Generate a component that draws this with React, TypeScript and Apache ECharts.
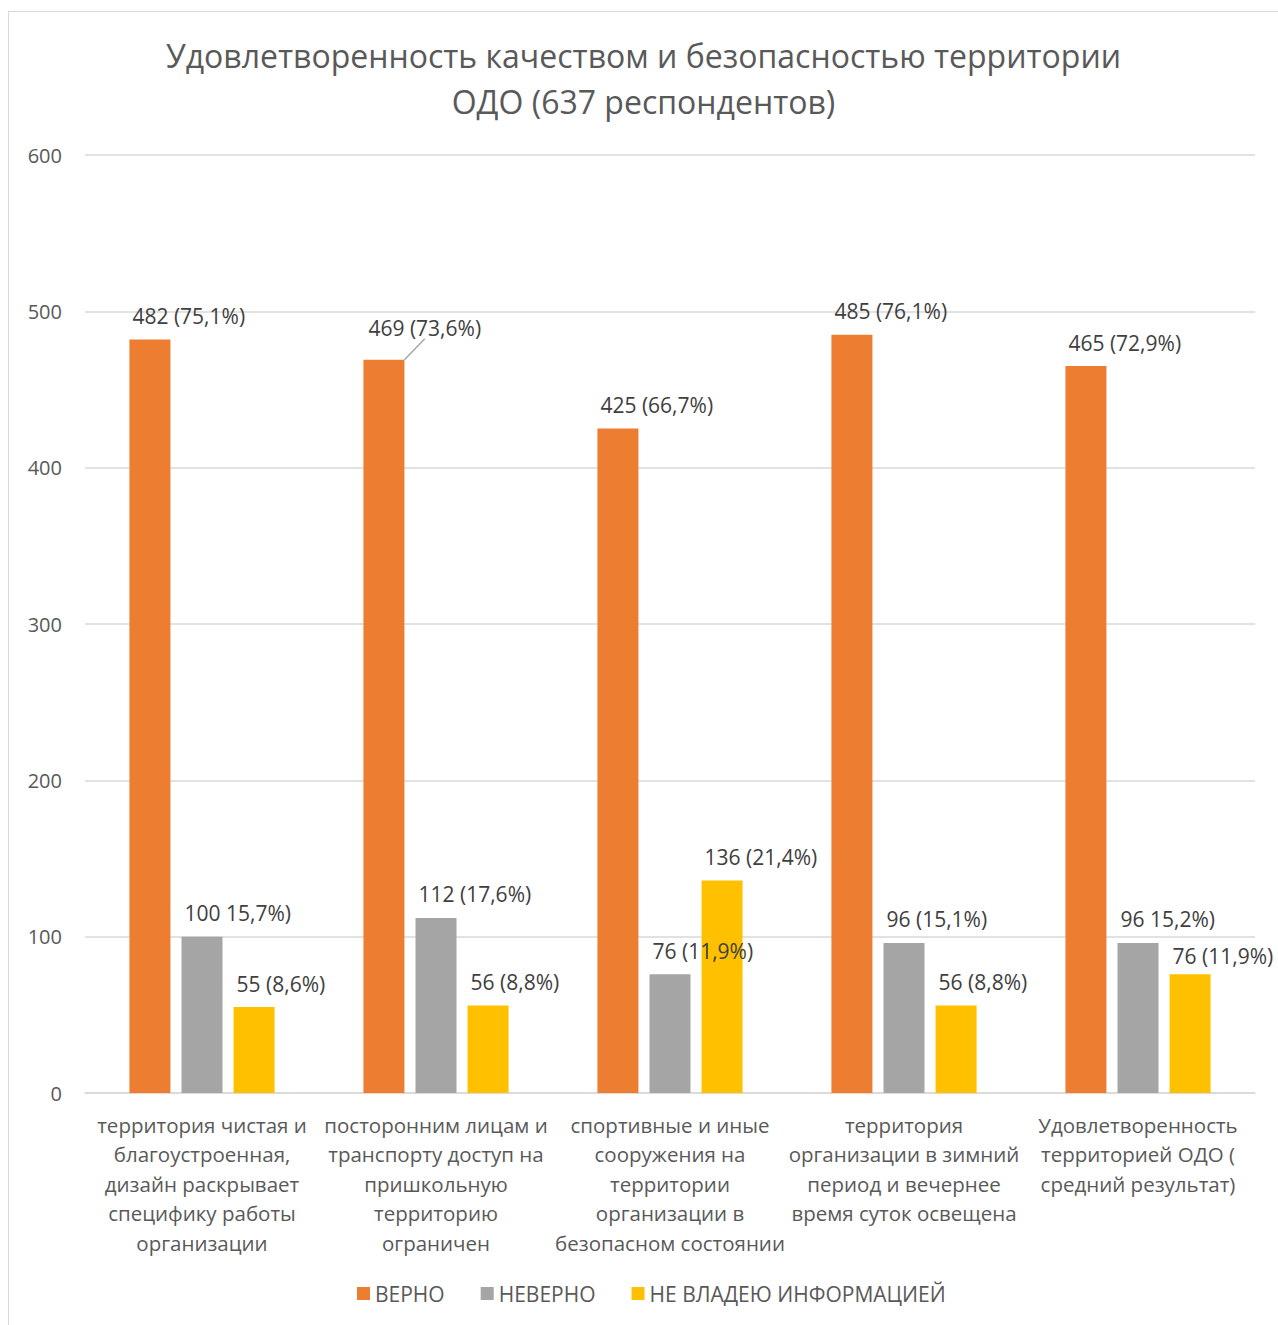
import React, { useEffect, useRef } from "react";
import * as echarts from "echarts";

const categories = [
  "территория чистая и\nблагоустроенная,\nдизайн раскрывает\nспецифику работы\nорганизации",
  "посторонним лицам и\nтранспорту доступ на\nпришкольную\nтерриторию\nограничен",
  "спортивные и иные\nсооружения на\nтерритории\nорганизации в\nбезопасном состоянии",
  "территория\nорганизации в зимний\nпериод и вечернее\nвремя суток освещена",
  "Удовлетворенность\nтерриторией ОДО (\nсредний результат)",
];

const seriesNames = ["ВЕРНО", "НЕВЕРНО", "НЕ ВЛАДЕЮ ИНФОРМАЦИЕЙ"];

const verno = [482, 469, 425, 485, 465];
const neverno = [100, 112, 76, 96, 96];
const neVladeyu = [55, 56, 136, 56, 76];

const vernoLabels = ["482 (75,1%)", "469 (73,6%)", "425 (66,7%)", "485 (76,1%)", "465 (72,9%)"];
const nevernoLabels = ["100 15,7%)", "112 (17,6%)", "76 (11,9%)", "96 (15,1%)", "96 15,2%)"];
const neVladeyuLabels = ["55 (8,6%)", "56 (8,8%)", "136 (21,4%)", "56 (8,8%)", "76 (11,9%)"];

const yTicks = { min: 0, max: 600, interval: 100 };

const COLORS = ["#ED7D31", "#A5A5A5", "#FFC000"];
const TEXT = "#595959";
const LABEL = "#404040";
const FONT = "'Open Sans', 'Noto Sans', sans-serif";

export default function App() {
  const ref = useRef<HTMLDivElement>(null);

  useEffect(() => {
    if (!ref.current) return;
    const chart = echarts.init(ref.current, undefined, { renderer: "svg" });

    const makeSeries = (name: string, values: number[], labels: string[], color: string, idx: number) => ({
      name,
      type: "bar",
      barWidth: 41,
      barGap: "27%",
      itemStyle: { color },
      data: values.map((v, i) => {
        const item: any = { value: v };
        if (idx === 0 && i === 1) {
          item.labelLine = { show: true, lineStyle: { color: "#A6A6A6", width: 1.5 } };
        }
        return item;
      }),
      label: {
        show: true,
        position: [3, -13],
        align: "left",
        verticalAlign: "bottom",
        color: LABEL,
        fontSize: 21,
        fontFamily: FONT,
        formatter: (p: any) => labels[p.dataIndex],
      },
      labelLayout: (p: any) => {
        if (idx === 0 && p.dataIndex === 1) return { dx: 2, dy: -8 };
        if (idx === 2 && p.dataIndex === 4) return { dy: 5 };
        return {};
      },
    });

    chart.setOption({
      animation: false,
      textStyle: { fontFamily: FONT },
      title: {
        text: "Удовлетворенность качеством и безопасностью территории\nОДО (637 респондентов)",
        left: "center",
        top: 15,
        textStyle: {
          color: TEXT,
          fontSize: 32,
          fontWeight: "normal",
          lineHeight: 46,
          fontFamily: FONT,
        },
      },
      legend: {
        data: seriesNames,
        left: 348,
        top: 1271,
        itemGap: 36,
        itemWidth: 13,
        itemHeight: 13,
        icon: "rect",
        padding: 0,
        textStyle: { color: TEXT, fontSize: 21, fontFamily: FONT },
      },
      grid: { left: 76, right: 23, top: 143, bottom: 232, containLabel: false },
      xAxis: {
        type: "category",
        data: categories,
        axisLine: { show: true, lineStyle: { color: "#D9D9D9", width: 1.5 } },
        axisTick: { show: false },
        axisLabel: {
          interval: 0,
          color: TEXT,
          fontSize: 20.5,
          lineHeight: 29.5,
          margin: 17,
          fontFamily: FONT,
        },
      },
      yAxis: {
        type: "value",
        min: yTicks.min,
        max: yTicks.max,
        interval: yTicks.interval,
        axisLine: { show: false },
        axisTick: { show: false },
        splitLine: { lineStyle: { color: "#D9D9D9", width: 1.5 } },
        axisLabel: { color: TEXT, fontSize: 20, margin: 23, fontFamily: FONT },
      },
      series: [
        makeSeries(seriesNames[0], verno, vernoLabels, COLORS[0], 0),
        makeSeries(seriesNames[1], neverno, nevernoLabels, COLORS[1], 1),
        makeSeries(seriesNames[2], neVladeyu, neVladeyuLabels, COLORS[2], 2),
      ],
    });

    return () => chart.dispose();
  }, []);

  return (
    <div
      style={{
        position: "fixed",
        left: 8,
        top: 11,
        width: 1270,
        height: 1314,
        borderTop: "1px solid #D9D9D9",
        borderLeft: "1px solid #D9D9D9",
        boxSizing: "border-box",
        background: "#fff",
      }}
    >
      <div ref={ref} style={{ width: 1269, height: 1313 }} />
    </div>
  );
}
